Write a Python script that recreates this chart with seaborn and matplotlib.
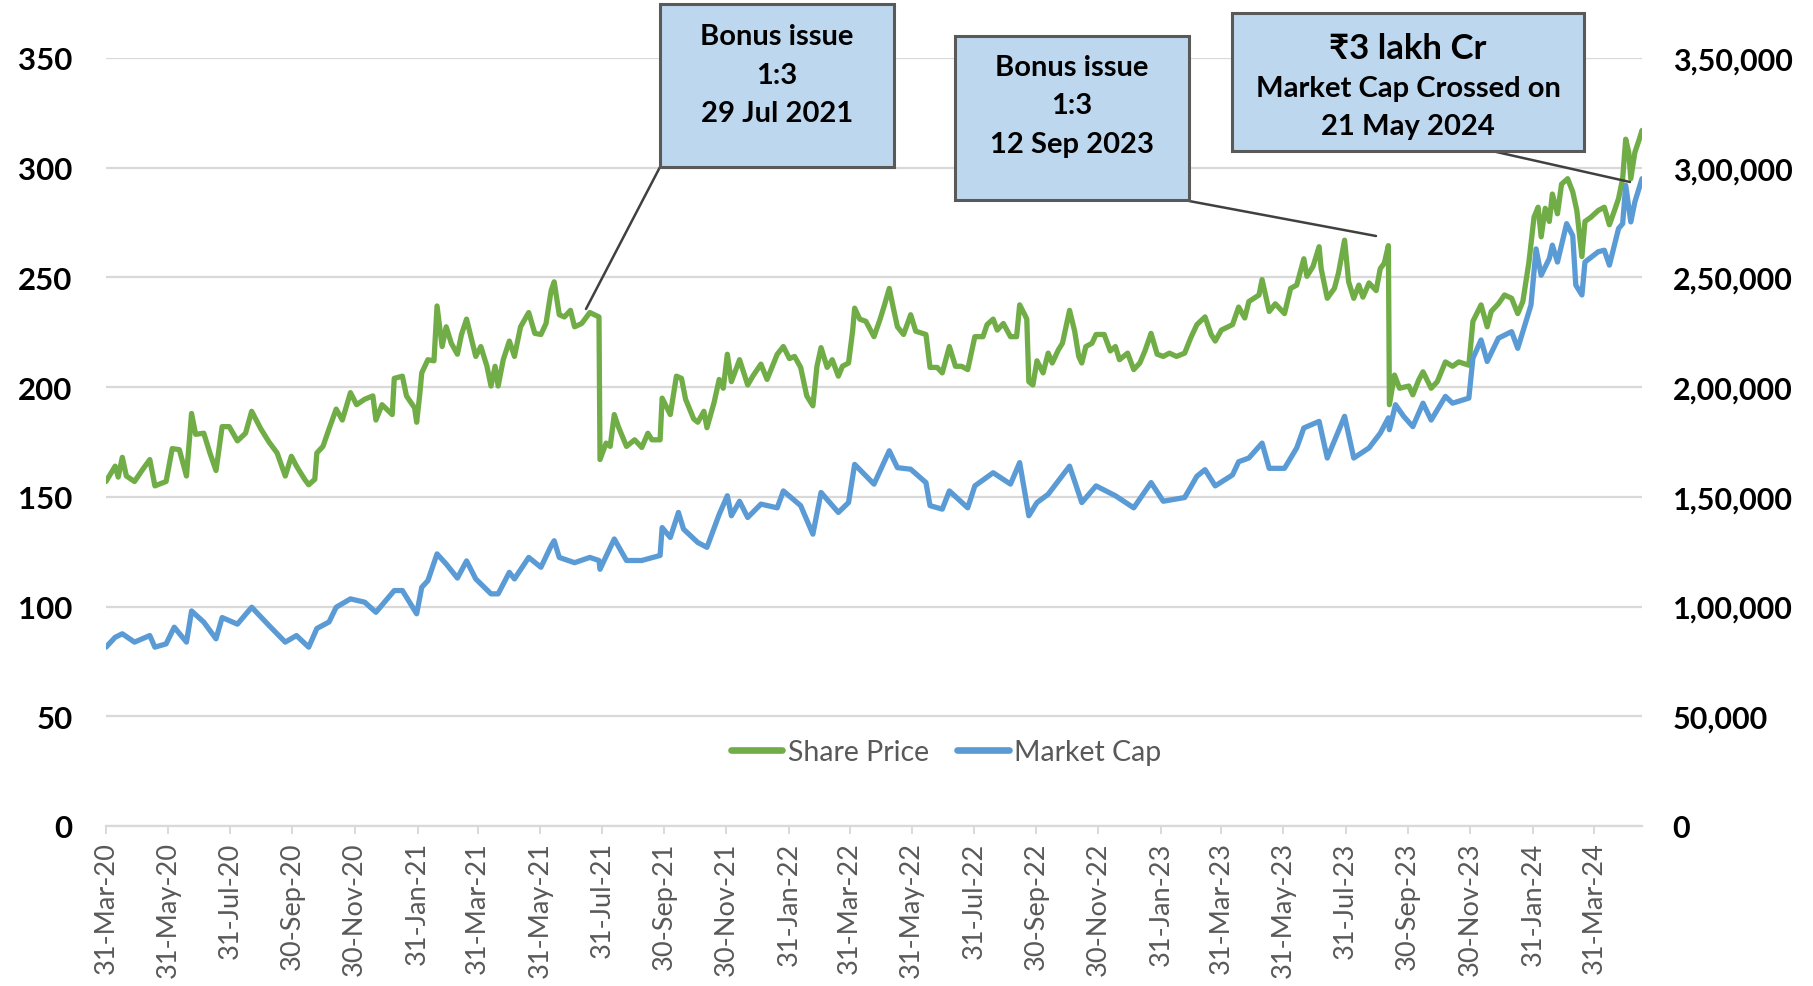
import pandas as pd
import matplotlib
matplotlib.use("Agg")
import matplotlib.pyplot as plt
import seaborn as sns
from matplotlib.patches import Rectangle
from matplotlib.lines import Line2D

# ---------------- data ----------------
price_dates = [
    "2020-03-31", "2020-04-09", "2020-04-12", "2020-04-16", "2020-04-20", "2020-04-28", "2020-05-06", "2020-05-13",
    "2020-05-18", "2020-05-29", "2020-06-04", "2020-06-11", "2020-06-18", "2020-06-23", "2020-06-27", "2020-07-05",
    "2020-07-11", "2020-07-17", "2020-07-23", "2020-07-30", "2020-08-07", "2020-08-15", "2020-08-21", "2020-08-30",
    "2020-09-07", "2020-09-15", "2020-09-23", "2020-09-29", "2020-10-04", "2020-10-12", "2020-10-16", "2020-10-22",
    "2020-10-24", "2020-10-30", "2020-11-05", "2020-11-12", "2020-11-18", "2020-11-26", "2020-12-02", "2020-12-10",
    "2020-12-18", "2020-12-21", "2020-12-27", "2021-01-06", "2021-01-08", "2021-01-16", "2021-01-20", "2021-01-28",
    "2021-01-30", "2021-02-02", "2021-02-04", "2021-02-10", "2021-02-16", "2021-02-19", "2021-02-24", "2021-02-28",
    "2021-03-05", "2021-03-11", "2021-03-15", "2021-03-20", "2021-03-25", "2021-03-29", "2021-04-03", "2021-04-09",
    "2021-04-13", "2021-04-17", "2021-04-20", "2021-04-25", "2021-05-01", "2021-05-06", "2021-05-12", "2021-05-20",
    "2021-05-26", "2021-06-01", "2021-06-06", "2021-06-11", "2021-06-14", "2021-06-19", "2021-06-24", "2021-06-30",
    "2021-07-04", "2021-07-11", "2021-07-19", "2021-07-28", "2021-07-29", "2021-08-04", "2021-08-08", "2021-08-12",
    "2021-08-16", "2021-08-24", "2021-09-01", "2021-09-08", "2021-09-14", "2021-09-18", "2021-09-26", "2021-09-28",
    "2021-10-06", "2021-10-12", "2021-10-17", "2021-10-21", "2021-10-29", "2021-11-02", "2021-11-08", "2021-11-11",
    "2021-11-18", "2021-11-23", "2021-11-27", "2021-12-01", "2021-12-05", "2021-12-13", "2021-12-21", "2021-12-26",
    "2022-01-03", "2022-01-09", "2022-01-19", "2022-01-25", "2022-01-31", "2022-02-05", "2022-02-11", "2022-02-17",
    "2022-02-23", "2022-02-27", "2022-03-03", "2022-03-09", "2022-03-14", "2022-03-20", "2022-03-24", "2022-03-30",
    "2022-04-03", "2022-04-05", "2022-04-10", "2022-04-16", "2022-04-24", "2022-04-30", "2022-05-04", "2022-05-09",
    "2022-05-13", "2022-05-17", "2022-05-23", "2022-05-30", "2022-06-04", "2022-06-14", "2022-06-18", "2022-06-25",
    "2022-06-30", "2022-07-07", "2022-07-13", "2022-07-19", "2022-07-25", "2022-08-01", "2022-08-09", "2022-08-13",
    "2022-08-19", "2022-08-23", "2022-08-29", "2022-09-05", "2022-09-11", "2022-09-14", "2022-09-19", "2022-09-21",
    "2022-09-23", "2022-09-27", "2022-10-01", "2022-10-07", "2022-10-12", "2022-10-16", "2022-10-22", "2022-10-26",
    "2022-11-02", "2022-11-07", "2022-11-11", "2022-11-14", "2022-11-18", "2022-11-24", "2022-11-28", "2022-12-06",
    "2022-12-12", "2022-12-17", "2022-12-21", "2022-12-29", "2023-01-04", "2023-01-10", "2023-01-15", "2023-01-21",
    "2023-01-27", "2023-02-02", "2023-02-08", "2023-02-15", "2023-02-23", "2023-03-01", "2023-03-07", "2023-03-15",
    "2023-03-21", "2023-03-25", "2023-03-31", "2023-04-11", "2023-04-17", "2023-04-23", "2023-04-27", "2023-05-07",
    "2023-05-10", "2023-05-17", "2023-05-23", "2023-06-01", "2023-06-07", "2023-06-13", "2023-06-20", "2023-06-23",
    "2023-06-29", "2023-07-05", "2023-07-07", "2023-07-13", "2023-07-20", "2023-07-24", "2023-07-30", "2023-08-03",
    "2023-08-08", "2023-08-13", "2023-08-17", "2023-08-23", "2023-08-30", "2023-09-03", "2023-09-07", "2023-09-11",
    "2023-09-12", "2023-09-17", "2023-09-22", "2023-10-01", "2023-10-05", "2023-10-11", "2023-10-15", "2023-10-23",
    "2023-10-29", "2023-11-06", "2023-11-13", "2023-11-19", "2023-11-29", "2023-12-03", "2023-12-11", "2023-12-17",
    "2023-12-21", "2023-12-28", "2024-01-03", "2024-01-10", "2024-01-16", "2024-01-21", "2024-01-27", "2024-02-01",
    "2024-02-05", "2024-02-08", "2024-02-12", "2024-02-16", "2024-02-19", "2024-02-24", "2024-02-28", "2024-03-05",
    "2024-03-10", "2024-03-14", "2024-03-19", "2024-03-22", "2024-03-28", "2024-04-04", "2024-04-10", "2024-04-15",
    "2024-04-20", "2024-04-24", "2024-04-28", "2024-05-01", "2024-05-04", "2024-05-06", "2024-05-10", "2024-05-14",
    "2024-05-17",
]
share_price = [
    157, 164, 159, 168, 159.5, 157, 162.5, 167,
    155, 157, 172, 171.5, 159.5, 188, 178.5, 179,
    170, 162, 182, 182, 175.5, 179, 189, 181,
    175, 170, 159.5, 168.5, 164, 158, 155.5, 158,
    170, 173, 181, 190, 185, 197.5, 192, 194.5,
    196, 185, 192, 187.5, 204, 205, 196, 190.5,
    184, 196.5, 206.5, 212.5, 212, 237, 218.5, 227.5,
    220, 215, 224, 231, 221.5, 214, 218.5, 209.5,
    200.5, 209.5, 200.5, 212.5, 221, 214, 227.5, 234,
    224.5, 224, 229, 244, 248, 233, 232, 235,
    227.5, 229, 234, 232, 167, 174.5, 173, 187.5,
    182, 173, 176, 172.5, 179, 176, 176, 195,
    187.5, 205, 204, 194.5, 185.5, 184, 189, 181.5,
    193, 203.5, 199.5, 215, 202.5, 212.5, 201, 205,
    210.5, 203.5, 215, 218.5, 213, 214, 209, 196,
    191.5, 209.5, 218, 209, 212.5, 205, 209.5, 211,
    225.5, 236, 231, 230, 223, 231, 237, 245,
    236, 227.5, 224, 233, 225.5, 224, 209, 209,
    206.5, 218.5, 209.5, 209.5, 208, 223, 223, 228.5,
    231, 226, 229, 223, 223, 237.5, 233, 231,
    202.5, 201, 212, 206.5, 215.5, 211, 217, 220,
    235, 225.5, 214, 211, 218.5, 220, 224, 224,
    216.5, 218.5, 212.5, 215.5, 208, 211, 216.5, 224.5,
    215, 214, 215.5, 214, 215.5, 222.5, 228.5, 232,
    224, 221, 226, 228.5, 236.5, 231.5, 239, 242,
    249, 234.5, 238, 233.5, 245, 246.5, 258.5, 250.5,
    255, 264, 254, 240.5, 245, 252, 267, 248,
    240.5, 246.5, 241, 247.5, 244, 254, 256.5, 264.5,
    192, 205.5, 199.5, 200.5, 196.5, 203.5, 207, 199.5,
    202.5, 211.5, 209.5, 211.5, 210, 230, 237.5, 227.5,
    234.5, 238, 242, 240.5, 233.5, 239, 257, 277.5,
    282, 268.5, 281.5, 275.5, 288, 279, 292.5, 295,
    289, 280.5, 259.5, 275.5, 277.5, 280.5, 282, 274,
    280.5, 286, 295, 313, 307, 295, 307, 312.5,
    317,
]

mcap_dates = [
    "2020-03-31", "2020-04-09", "2020-04-16", "2020-04-28", "2020-05-13", "2020-05-18", "2020-05-29", "2020-06-06",
    "2020-06-18", "2020-06-23", "2020-07-05", "2020-07-17", "2020-07-23", "2020-08-07", "2020-08-21", "2020-09-07",
    "2020-09-23", "2020-10-04", "2020-10-16", "2020-10-24", "2020-11-05", "2020-11-12", "2020-11-26", "2020-12-10",
    "2020-12-21", "2021-01-08", "2021-01-16", "2021-01-30", "2021-02-04", "2021-02-10", "2021-02-19", "2021-02-28",
    "2021-03-11", "2021-03-20", "2021-03-29", "2021-04-13", "2021-04-20", "2021-05-01", "2021-05-06", "2021-05-20",
    "2021-06-01", "2021-06-11", "2021-06-14", "2021-06-19", "2021-07-04", "2021-07-19", "2021-07-28", "2021-07-29",
    "2021-08-12", "2021-08-24", "2021-09-08", "2021-09-26", "2021-09-28", "2021-10-06", "2021-10-14", "2021-10-19",
    "2021-11-02", "2021-11-11", "2021-11-23", "2021-12-01", "2021-12-05", "2021-12-13", "2021-12-21", "2022-01-03",
    "2022-01-19", "2022-01-25", "2022-02-11", "2022-02-23", "2022-03-03", "2022-03-20", "2022-03-30", "2022-04-05",
    "2022-04-24", "2022-05-09", "2022-05-17", "2022-05-30", "2022-06-14", "2022-06-18", "2022-06-30", "2022-07-07",
    "2022-07-25", "2022-08-01", "2022-08-19", "2022-09-05", "2022-09-14", "2022-09-23", "2022-10-01", "2022-10-12",
    "2022-11-02", "2022-11-14", "2022-11-28", "2022-12-17", "2023-01-04", "2023-01-21", "2023-02-02", "2023-02-23",
    "2023-03-07", "2023-03-15", "2023-03-25", "2023-04-11", "2023-04-17", "2023-04-27", "2023-05-10", "2023-05-17",
    "2023-06-01", "2023-06-13", "2023-06-20", "2023-07-05", "2023-07-13", "2023-07-30", "2023-08-08", "2023-08-23",
    "2023-09-03", "2023-09-11", "2023-09-12", "2023-09-18", "2023-09-26", "2023-10-05", "2023-10-15", "2023-10-23",
    "2023-11-06", "2023-11-13", "2023-11-29", "2023-12-03", "2023-12-11", "2023-12-17", "2023-12-28", "2024-01-10",
    "2024-01-16", "2024-01-23", "2024-01-29", "2024-02-03", "2024-02-08", "2024-02-16", "2024-02-19", "2024-02-24",
    "2024-03-04", "2024-03-10", "2024-03-13", "2024-03-19", "2024-03-22", "2024-04-04", "2024-04-10", "2024-04-15",
    "2024-04-24", "2024-04-28", "2024-05-01", "2024-05-06", "2024-05-10", "2024-05-17",
]
market_cap = [
    81500, 86000, 87600, 83800, 86800, 81500, 83000, 90600,
    83800, 98000, 92900, 85300, 95000, 92000, 99700, 91400,
    83800, 86800, 81500, 90000, 93000, 99700, 103500, 102000,
    97400, 107300, 107300, 96700, 108800, 111800, 124000, 119400,
    113000, 120800, 112600, 105800, 105800, 115600, 112600, 122400,
    117900, 127700, 130000, 122400, 120000, 122400, 121000, 117000,
    130800, 121000, 121000, 123300, 136000, 131500, 142900, 135300,
    129200, 127000, 142000, 150500, 141400, 148000, 140600, 146700,
    145000, 152700, 146000, 133000, 152000, 142900, 147400, 164800,
    155800, 171000, 163300, 162600, 156500, 146000, 144400, 152700,
    145000, 155000, 161000, 155800, 165600, 141400, 147400, 151200,
    164000, 147400, 155000, 150500, 145000, 156500, 148000, 149700,
    159400, 162400, 155000, 160000, 166000, 167700, 174500, 163000,
    163000, 172300, 181400, 184400, 167700, 186700, 167700, 172300,
    179000, 186000, 180600, 192000, 186700, 182000, 192700, 185000,
    195800, 192700, 195000, 213200, 221500, 211700, 222300, 225300,
    217700, 228300, 237400, 263000, 251000, 258600, 264700, 257000,
    274500, 269000, 246500, 242000, 257000, 261700, 262400, 255600,
    272300, 274500, 292000, 275300, 284400, 295000,
]

left_ticks = [0, 50, 100, 150, 200, 250, 300, 350]
right_ticks = [0, 50000, 100000, 150000, 200000, 250000, 300000, 350000]
right_tick_labels = ["0", "50,000", "1,00,000", "1,50,000", "2,00,000", "2,50,000", "3,00,000", "3,50,000"]
series_names = ["Share Price", "Market Cap"]

box_texts = [
    ["Bonus issue", "1:3", "29 Jul 2021"],
    ["Bonus issue", "1:3", "12 Sep 2023"],
    ["\u20b93 lakh Cr", "Market Cap Crossed on", "21 May 2024"],
]

# ---------------- style ----------------
GREEN = "#70AD47"
BLUE = "#5B9BD5"
GRID = "#D9D9D9"
GREY_TXT = "#595959"
BOX_FILL = "#BDD7EE"
BOX_EDGE = "#595959"

sns.set_theme(style="white")
plt.rcParams["font.family"] = ["Lato", "DejaVu Sans"]

W, H = 1813, 987
fig = plt.figure(figsize=(W / 100, H / 100), dpi=100)

def fx(px):
    return px / W

def fy(py):
    return 1 - py / H

ax_l, ax_r, ax_t, ax_b = 106, 1642, 59, 827
ax = fig.add_axes([fx(ax_l), fy(ax_b), fx(ax_r - ax_l), (ax_b - ax_t) / H])
ax2 = ax.twinx()

df_price = pd.DataFrame({"Date": pd.to_datetime(price_dates), "Value": share_price})
df_mcap = pd.DataFrame({"Date": pd.to_datetime(mcap_dates), "Value": market_cap})

sns.lineplot(data=df_price, x="Date", y="Value", ax=ax, color=GREEN, linewidth=3.8,
             legend=False, estimator=None)
sns.lineplot(data=df_mcap, x="Date", y="Value", ax=ax2, color=BLUE, linewidth=3.8,
             legend=False, estimator=None)

for a in (ax, ax2):
    a.set_xlabel("")
    a.set_ylabel("")
    for s in a.spines.values():
        s.set_visible(False)

x0 = df_price["Date"].min()
x1 = df_price["Date"].max()
ax.set_xlim(x0, x1)
ax.set_ylim(0, 350)
ax2.set_ylim(0, 350000)

ax.yaxis.grid(True, color=GRID, linewidth=1.6)
ax.xaxis.grid(False)
ax2.grid(False)
ax.set_axisbelow(True)
ax.spines["bottom"].set_visible(True)
ax.spines["bottom"].set_color(GRID)
ax.spines["bottom"].set_linewidth(1.6)

ax.set_yticks(left_ticks)
ax.set_yticklabels([str(v) for v in left_ticks], fontsize=22.5, fontweight="bold", color="black")
ax.tick_params(axis="y", length=0, pad=24)
ax2.set_yticks(right_ticks)
ax2.set_yticklabels(right_tick_labels, fontsize=22, fontweight="bold", color="black")
ax2.tick_params(axis="y", length=0, pad=22)

tick_dates = pd.date_range("2020-03-31", "2024-03-31", freq="2ME")
ax.set_xticks(tick_dates)
ax.set_xticklabels([d.strftime("%d-%b-%y") for d in tick_dates], rotation=90,
                   fontsize=19.5, color=GREY_TXT)
ax.tick_params(axis="x", direction="out", length=6, width=1.4, color=GRID, pad=5, bottom=True)

# legend
handles = [Line2D([], [], color=GREEN, lw=4.8, solid_capstyle="round"),
           Line2D([], [], color=BLUE, lw=4.8, solid_capstyle="round")]
leg = ax2.legend(handles, series_names, loc="center", bbox_to_anchor=(0.547, 0.096),
                 ncol=2, frameon=False, fontsize=20.5, handlelength=1.8, handletextpad=0.2,
                 columnspacing=1.0, labelcolor=GREY_TXT)

# annotation boxes (pixel layout)
boxes = [
    dict(x0=660, x1=894, y0=5, y1=168, lines=[37, 76, 114], sizes=[21, 21, 21],
         leader=((660, 168), (586, 310))),
    dict(x0=955, x1=1189, y0=37, y1=201, lines=[68, 106, 145], sizes=[21, 21, 21],
         leader=((1189, 202), (1376, 237))),
    dict(x0=1232, x1=1584, y0=14, y1=152, lines=[49, 89, 127], sizes=[25, 21, 21],
         leader=((1492, 152), (1630, 183))),
]
for b, texts in zip(boxes, box_texts):
    rect = Rectangle((fx(b["x0"]), fy(b["y1"])), fx(b["x1"] - b["x0"]), (b["y1"] - b["y0"]) / H,
                     transform=fig.transFigure, facecolor=BOX_FILL, edgecolor=BOX_EDGE,
                     linewidth=2.2, zorder=5)
    fig.patches.append(rect)
    cx = fx((b["x0"] + b["x1"]) / 2)
    for t, ly, sz in zip(texts, b["lines"], b["sizes"]):
        fig.text(cx, fy(ly), t, ha="center", va="center", fontsize=sz, fontweight="bold",
                 color="black", zorder=6, family=["Lato", "DejaVu Sans"])
    (p0, p1) = b["leader"]
    fig.lines.append(Line2D([fx(p0[0]), fx(p1[0])], [fy(p0[1]), fy(p1[1])],
                            transform=fig.transFigure, color="#404040", linewidth=1.8, zorder=4))

fig.savefig("out.png", dpi=100)
